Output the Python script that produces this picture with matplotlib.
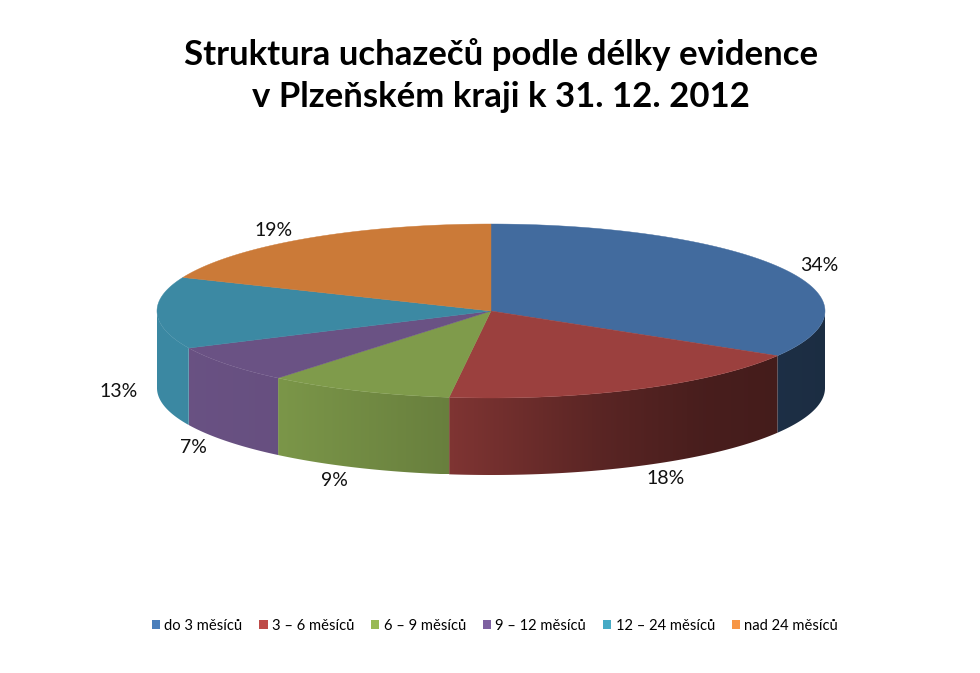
import numpy as np
import matplotlib
matplotlib.use('Agg')
import matplotlib.pyplot as plt
from matplotlib.patches import Patch, Polygon

plt.rcParams['font.family'] = ['Lato', 'DejaVu Sans']

categories = ['do 3 měsíců', '3 – 6 měsíců', '6 – 9 měsíců', '9 – 12 měsíců', '12 – 24 měsíců', 'nad 24 měsíců']
values = [33.6, 18.4, 9.0, 7.0, 13.3, 18.7]
labels = ['34%', '18%', '9%', '7%', '13%', '19%']
title = 'Struktura uchazečů podle délky evidence\nv Plzeňském kraji k 31. 12. 2012'

top_colors = ['#426B9E', '#9B403E', '#7F9B4B', '#6A5284', '#3C89A3', '#CB7A38']
legend_colors = ['#4A7EBB', '#BE4B48', '#98B954', '#7D60A0', '#46AAC5', '#F79646']

# pie geometry in pixels of the picture
cx, cy = 491, 311
rx, ry = 334, 87
depth = 77
# label shift from the rim point of each slice
label_shift = [(38, -3), (29, 12), (-24, 13), (-34, 6), (-38, 2), (-32, -8)]


def rim(t):
    return cx + rx * np.sin(t), cy - ry * np.cos(t)


def wall_shade(x):
    # the side gets darker from left to right
    return np.interp(x, [157, 277, 449, 600, 700, 778, 825], [1.0, 0.97, 0.82, 0.58, 0.47, 0.44, 0.42])


fig = plt.figure(figsize=(9.8, 6.73), dpi=100)
ax = fig.add_axes([0, 0, 1, 1])

edges = np.cumsum([0] + values) / sum(values) * 2 * np.pi

# side wall, front half only, as a gradient clipped to the wall outline
for i in range(len(values)):
    t0 = max(edges[i], np.pi / 2)
    t1 = min(edges[i + 1], 3 * np.pi / 2)
    if t1 <= t0:
        continue
    ts = np.linspace(t0, t1, 200)
    xs, ys = rim(ts)
    outline = np.column_stack([np.r_[xs, xs[::-1]], np.r_[ys, ys[::-1] + depth]])
    wall = Polygon(outline, closed=True, facecolor='none', edgecolor='none')
    ax.add_patch(wall)
    left, right = xs.min(), xs.max()
    col_x = np.linspace(left, right, 256)
    base = np.array(matplotlib.colors.to_rgb(top_colors[i]))
    grad = np.outer(wall_shade(col_x), base)[np.newaxis, :, :]
    im = ax.imshow(grad, extent=(left, right, ys.max() + depth, ys.min()), aspect='auto',
                   interpolation='bilinear', zorder=1.5)
    im.set_clip_path(wall)

# top face
for i in range(len(values)):
    ts = np.linspace(edges[i], edges[i + 1], 200)
    xs, ys = rim(ts)
    pts = np.column_stack([np.r_[cx, xs], np.r_[cy, ys]])
    ax.add_patch(Polygon(pts, closed=True, facecolor=top_colors[i], edgecolor=top_colors[i],
                         linewidth=0.3, zorder=2))

ax.set_xlim(0, 980)
ax.set_ylim(673, 0)
ax.axis('off')

# percent labels
for i in range(len(values)):
    mid = (edges[i] + edges[i + 1]) / 2
    x, y = rim(mid)
    if np.pi / 2 < mid < 3 * np.pi / 2:
        y += depth
    ax.text(x + label_shift[i][0], y + label_shift[i][1], labels[i], fontsize=14, color='#111111',
            ha='center', va='center')

ax.text(501, 75.5, title, fontsize=25, fontweight='bold', color='black', ha='center', va='center', linespacing=1.42)

handles = [Patch(facecolor=c, edgecolor='none') for c in legend_colors]
ax.legend(handles, categories, loc='center', bbox_to_anchor=(495, 626), bbox_transform=ax.transData,
          ncol=6, frameon=False, fontsize=10.6, handlelength=0.55, handleheight=0.55, handletextpad=0.3,
          columnspacing=1.15, borderpad=0)

fig.savefig('out.png', dpi=100, facecolor='white')
